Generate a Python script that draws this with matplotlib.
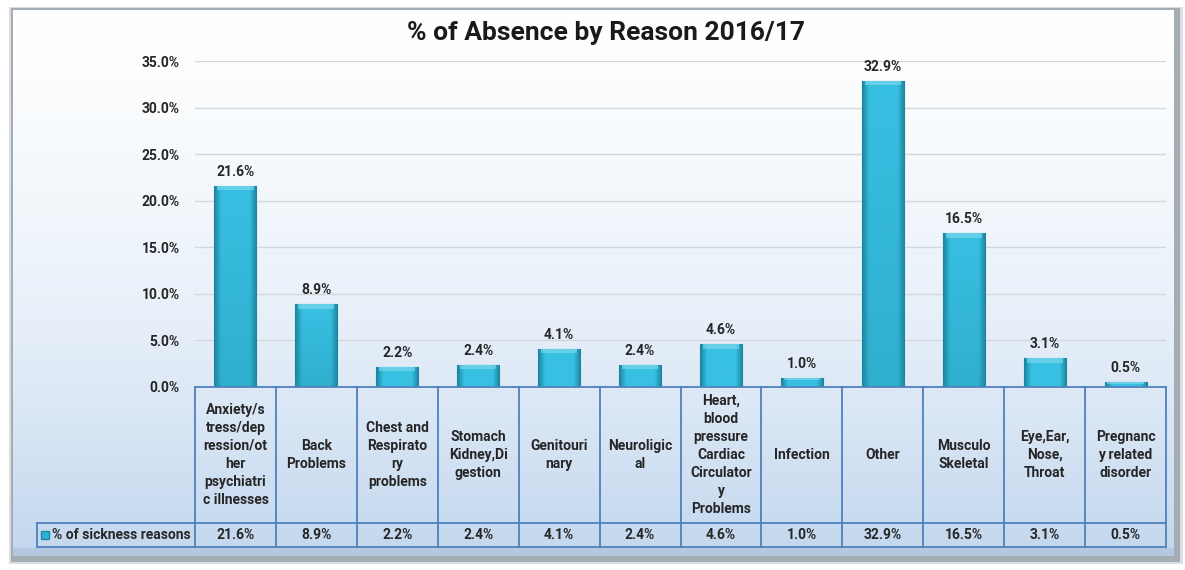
import numpy as np
import matplotlib
matplotlib.use("Agg")
import matplotlib.pyplot as plt
from matplotlib.patches import Rectangle
from matplotlib.colors import LinearSegmentedColormap, to_rgb

plt.rcParams['font.family'] = ['Roboto', 'DejaVu Sans']
plt.rcParams['font.weight'] = 'bold'

# sickness absence share by reason, 2016/17
reasons = ["Anxiety/s\ntress/dep\nression/ot\nher\npsychiatri\nc illnesses",
           "Back\nProblems",
           "Chest and\nRespirato\nry\nproblems",
           "Stomach\nKidney,Di\ngestion",
           "Genitouri\nnary",
           "Neuroligic\nal",
           "Heart,\nblood\npressure\nCardiac\nCirculator\ny\nProblems",
           "Infection",
           "Other",
           "Musculo\nSkeletal",
           "Eye,Ear,\nNose,\nThroat",
           "Pregnanc\ny related\ndisorder"]
pct = [21.6, 8.9, 2.2, 2.4, 4.1, 2.4, 4.6, 1.0, 32.9, 16.5, 3.1, 0.5]
series_name = "% of sickness reasons"
yticks = [0, 5, 10, 15, 20, 25, 30, 35]

FS = 10
TXT = '#262626'

W, H = 1185, 570
fig = plt.figure(figsize=(W / 100, H / 100), dpi=100)
fig.patch.set_facecolor('white')

# backdrop: frame with shadow and white-to-blue gradient
bg = fig.add_axes([0, 0, 1, 1])
bg.set_xlim(0, W)
bg.set_ylim(H, 0)
bg.axis('off')
bg.add_patch(Rectangle((9, 7), 1174, 557, facecolor='#9aa4b0', edgecolor='none', alpha=0.35))
bg.add_patch(Rectangle((11, 8), 1169, 554, facecolor='#6f7a86', edgecolor='none', alpha=0.5))
grad = np.linspace(0, 1, 256).reshape(-1, 1) ** 1.3
bgmap = LinearSegmentedColormap.from_list('bgc', ['#ffffff', '#e6eff9', '#c3d7ee'])
bg.imshow(grad, cmap=bgmap, aspect='auto', extent=(13, 1174, 556, 10), zorder=1)
bg.add_patch(Rectangle((13, 548), 1161, 8, facecolor='#b4c8e0', edgecolor='none', zorder=2))

x0, x1 = 195, 1166
y0, ytop = 387, 61
ax = fig.add_axes([x0 / W, 1 - y0 / H, (x1 - x0) / W, (y0 - ytop) / H])
ax.patch.set_alpha(0)
n = len(pct)
x = np.arange(n)
ax.set_xlim(-0.5, n - 0.5)
ax.set_ylim(0, 35)
ax.set_yticks(yticks)
ax.set_yticklabels([f"{t:.1f}%" for t in yticks], fontsize=FS, fontweight='bold', color=TXT)
ax.tick_params(axis='y', length=0, pad=11)
ax.set_xticks([])
for s in ax.spines.values():
    s.set_visible(False)
ax.grid(axis='y', color='#d4d8dc', lw=1)
ax.set_axisbelow(True)

bars = ax.bar(x, pct, width=0.52, color='#2fb2d6', edgecolor='#1e8aa6', lw=0.8, zorder=2)

# shaded fill for each bar: darker at the sides and toward the base
light = np.array(to_rgb('#38c0e2'))
dark = np.array(to_rgb('#1b849f'))
gx = np.linspace(0, 1, 64)
side = np.clip(np.minimum(gx, 1 - gx) * 6, 0, 1)
for b, v in zip(bars, pct):
    bx, bw = b.get_x(), b.get_width()
    rows = 64
    vert = np.linspace(1.0, 0.72, rows).reshape(-1, 1) if v > 5 else np.ones((rows, 1))
    t = side.reshape(1, -1) * vert
    img = dark + (light - dark) * t[..., None]
    im = ax.imshow(img, aspect='auto', extent=(bx, bx + bw, 0, v), zorder=3,
                   interpolation='bilinear')
    im.set_clip_path(b)
    # lighter bevel along the top
    cap = min(0.5, v * 0.3)
    ax.add_patch(Rectangle((bx + bw * 0.07, v - cap), bw * 0.86, cap,
                           facecolor='#86dbf0', edgecolor='none', alpha=0.6, zorder=4))
    ax.annotate(f"{v:.1f}%", (bx + bw / 2, v), xytext=(0, 5), textcoords='offset points',
                ha='center', va='bottom', fontsize=FS, fontweight='bold', color=TXT)
ax.set_ylim(0, 35)

fig.text(0.511, 1 - 33 / H, "% of Absence by Reason 2016/17", ha='center', va='center',
         fontsize=19, fontweight='bold', color='#1a1a1a')

# data table under the axis
tl = 37
col_w = (x1 - x0) / n
lx = -0.5 - (x0 - tl) / col_w
tab = fig.add_axes([tl / W, 1 - 547 / H, (x1 - tl) / W, (547 - y0) / H])
tab.axis('off')
tab.set_xlim(lx, n - 0.5)
tab.set_ylim(-(547 - y0), 0)
row1 = -(523 - y0)
row2 = -(547 - y0)
lk = dict(color='#4f81bd', lw=1.3, clip_on=False)
tab.plot([-0.5, n - 0.5], [0, 0], **lk)
tab.plot([lx, n - 0.5], [row1, row1], **lk)
tab.plot([lx, n - 0.5], [row2, row2], **lk)
tab.plot([lx, lx], [row1, row2], **lk)
for i in range(n + 1):
    tab.plot([i - 0.5, i - 0.5], [0, row2], **lk)
for i, (lab, v) in enumerate(zip(reasons, pct)):
    tab.text(i, row1 / 2, lab, ha='center', va='center', fontsize=FS, fontweight='bold',
             color=TXT, linespacing=1.37)
    tab.text(i, (row1 + row2) / 2, f"{v:.1f}%", ha='center', va='center', fontsize=FS,
             fontweight='bold', color=TXT)
tab.plot([lx + 0.1], [(row1 + row2) / 2], marker='s', ms=6, color='#2fb2d6',
         markeredgecolor='#1e8aa6', clip_on=False)
tab.text(lx + 0.19, (row1 + row2) / 2, series_name, ha='left', va='center', fontsize=FS,
         fontweight='bold', color=TXT)

fig.savefig('out.png', dpi=100)
